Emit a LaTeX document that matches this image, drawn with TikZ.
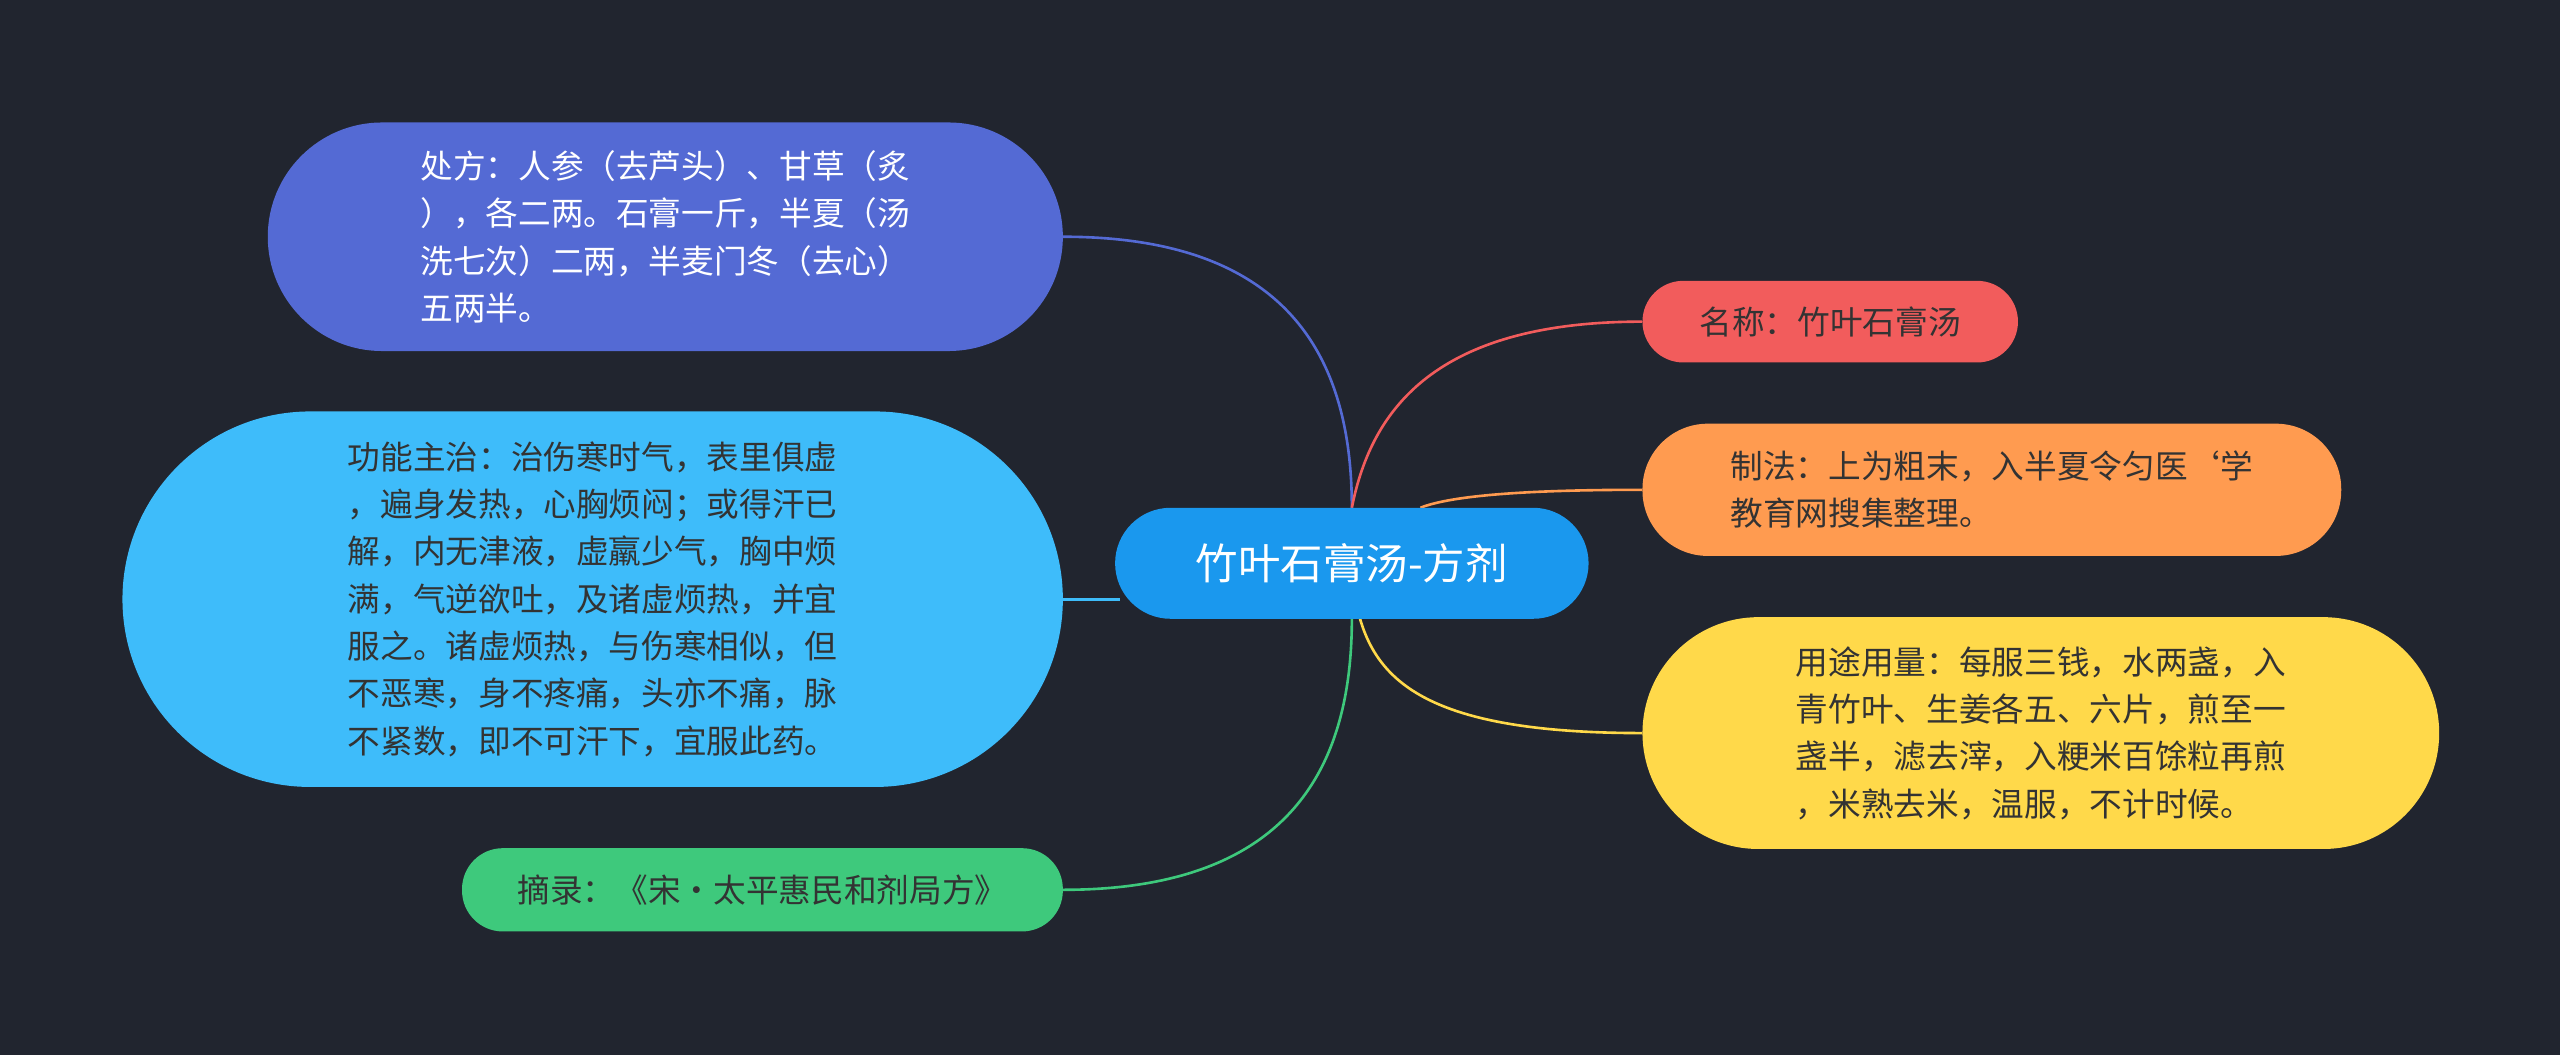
\documentclass[tikz,border=0pt]{standalone}
\usepackage{fontspec}
\setmainfont{Noto Sans CJK SC}
\pgfdeclarelayer{bg}
\pgfsetlayers{bg,main}
\begin{document}
\begin{tikzpicture}[x=1pt,y=-1pt,
  box/.style={rounded corners=#1, inner sep=0pt, align=left, font=\fontsize{20}{29}\selectfont, text=black!80},
  ln/.style={line width=1.6pt}]
\useasboundingbox (0,0) rectangle (1568,646);
\definecolor{cblue}{RGB}{84,106,212}
\definecolor{clb}{RGB}{62,188,250}
\definecolor{cgr}{RGB}{62,201,124}
\definecolor{cred}{RGB}{242,92,92}
\definecolor{cor}{RGB}{255,155,80}
\definecolor{cye}{RGB}{255,217,74}
\definecolor{cct}{RGB}{26,152,238}
\node[box=34pt, fill=cct, minimum width=290pt, minimum height=68pt, text=white, font=\fontsize{26}{30}\selectfont] (c) at (828,345) {竹叶石膏汤-方剂};
\node[box=70pt, fill=cblue, minimum width=487pt, minimum height=140pt, text=white] (p1) at (407.5,145) {处方：人参（去芦头）、甘草（炙\\），各二两。石膏一斤，半夏（汤\\洗七次）二两，半麦门冬（去心）\\五两半。};
\node[box=115pt, fill=clb, minimum width=576pt, minimum height=230pt] (p2) at (363,367) {功能主治：治伤寒时气，表里俱虚\\，遍身发热，心胸烦闷；或得汗已\\解，内无津液，虚羸少气，胸中烦\\满，气逆欲吐，及诸虚烦热，并宜\\服之。诸虚烦热，与伤寒相似，但\\不恶寒，身不疼痛，头亦不痛，脉\\不紧数，即不可汗下，宜服此药。};
\node[box=25pt, fill=cgr, minimum width=368pt, minimum height=51pt] (p3) at (467,545) {摘录：《宋·太平惠民和剂局方》};
\node[box=25pt, fill=cred, minimum width=230pt, minimum height=50pt] (r1) at (1121,197) {名称：竹叶石膏汤};
\node[box=40pt, fill=cor, minimum width=428pt, minimum height=81pt] (r2) at (1220,300) {制法：上为粗末，入半夏令匀医`学\\教育网搜集整理。};
\node[box=71pt, fill=cye, minimum width=488pt, minimum height=142pt] (r3) at (1250,449) {用途用量：每服三钱，水两盏，入\\青竹叶、生姜各五、六片，煎至一\\盏半，滤去滓，入粳米百馀粒再煎\\，米熟去米，温服，不计时候。};
\coordinate (ct) at (828,311);
\coordinate (cb) at (828,379);
\coordinate (co) at (870,311);
\coordinate (cy) at (833,379);
\coordinate (cl) at (686,367);
\begin{pgfonlayer}{bg}
\fill[fill={rgb,255:red,33;green,37;blue,47}] (0,0) rectangle (1568,646);
\draw[ln, draw=cblue] (p1.east) .. controls (790,145) and (828,220) .. (ct);
\draw[ln, draw=clb] (p2.east) -- (cl);
\draw[ln, draw=cgr] (p3.east) .. controls (790,545) and (828,470) .. (cb);
\draw[ln, draw=cred] (r1.west) .. controls (880,197) and (840,250) .. (ct);
\draw[ln, draw=cor] (r2.west) .. controls (940,300) and (890,303) .. (co);
\draw[ln, draw=cye] (r3.west) .. controls (880,449) and (845,420) .. (cy);
\end{pgfonlayer}
\end{tikzpicture}
\end{document}
